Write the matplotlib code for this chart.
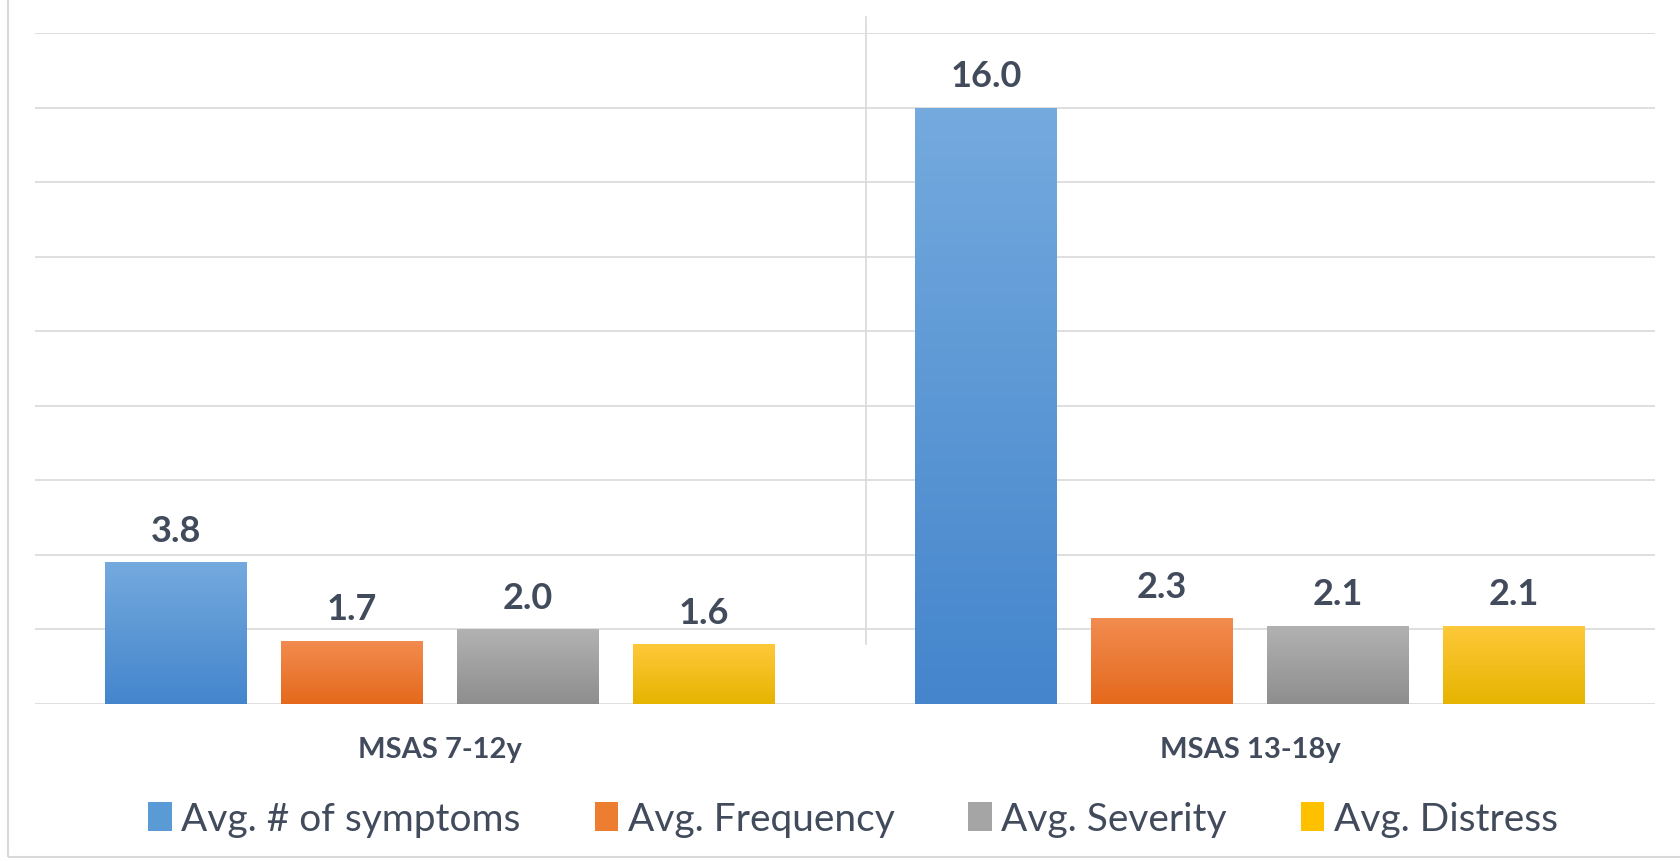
import matplotlib
matplotlib.use("Agg")
import matplotlib.pyplot as plt
import numpy as np
from matplotlib.colors import LinearSegmentedColormap
from matplotlib.patches import Rectangle

plt.rcParams['font.family'] = ['Lato', 'DejaVu Sans']

# Data
categories = ["MSAS 7-12y", "MSAS 13-18y"]
series_names = ["Avg. # of symptoms", "Avg. Frequency", "Avg. Severity", "Avg. Distress"]
num_symptoms = [3.8, 16.0]
frequency = [1.7, 2.3]
severity = [2.0, 2.1]
distress = [1.6, 2.1]
series_values = [num_symptoms, frequency, severity, distress]

# (top, bottom) colours of each series' vertical gradient
gradients = [("#74aade", "#4485cc"),
             ("#f28c50", "#e4691c"),
             ("#b2b2b2", "#8e8e8e"),
             ("#fec93a", "#e6b400")]
swatch_colors = ["#5b9bd5", "#ed7d31", "#a5a5a5", "#ffc000"]
text_color = "#414b5c"

fig = plt.figure(figsize=(16.8, 8.62), dpi=100)
ax = fig.add_axes([35 / 1680, 157 / 862, 1620 / 1680, 671 / 862])

x = np.arange(len(categories))
step = 0.217
width = 0.175
grad = np.linspace(0, 1, 256).reshape(-1, 1)

for i, (name, vals) in enumerate(zip(series_names, series_values)):
    top_c, bot_c = gradients[i]
    cmap = LinearSegmentedColormap.from_list(f"g{i}", [bot_c, top_c])
    offs = x + (i - 1.5) * step
    bars = ax.bar(offs, vals, width, color=swatch_colors[i], label=name, zorder=2)
    for bar, v in zip(bars, vals):
        bx, by = bar.get_x(), bar.get_y()
        bw, bh = bar.get_width(), bar.get_height()
        im = ax.imshow(grad, cmap=cmap, origin="lower", aspect="auto",
                       extent=[bx, bx + bw, by, by + bh], zorder=3)
        im.set_clip_path(bar)
        ax.text(bx + bw / 2, v + 0.42, f"{v:.1f}", ha="center", va="bottom",
                fontsize=26, fontweight="bold", color=text_color, zorder=4)

ax.set_xlim(-0.5, 1.5)
ax.set_ylim(0, 18)
ax.set_yticks(np.arange(0, 19, 2))
ax.yaxis.grid(True, color="#d9d9d9", linewidth=1.2, zorder=0)
ax.set_axisbelow(True)
ax.tick_params(axis="y", length=0, labelleft=False)
ax.tick_params(axis="x", length=0, pad=23)
ax.set_xticks(x)
ax.set_xticklabels(categories, fontsize=21, fontweight="bold", color=text_color)
for s in ax.spines.values():
    s.set_visible(False)

# thin divider between the two groups
ax.axvline(0.526, ymin=1.6 / 18, ymax=1.024, color="#d9d9d9", linewidth=1.2,
           clip_on=False, zorder=1)

leg = fig.legend(loc="center", bbox_to_anchor=(853 / 1680, 42 / 862), ncol=4,
                 frameon=False, fontsize=28, handlelength=0.6, handleheight=0.75,
                 handletextpad=0.25, columnspacing=1.9)
for t in leg.get_texts():
    t.set_color(text_color)

# chart-area frame
fig.patches.append(Rectangle((8 / 1680, 4 / 862), 1680, 852 / 862 + 1,
                             transform=fig.transFigure, fill=False,
                             edgecolor="#d9d9d9", linewidth=1.5))

fig.savefig("out.png", dpi=100, facecolor="white")
